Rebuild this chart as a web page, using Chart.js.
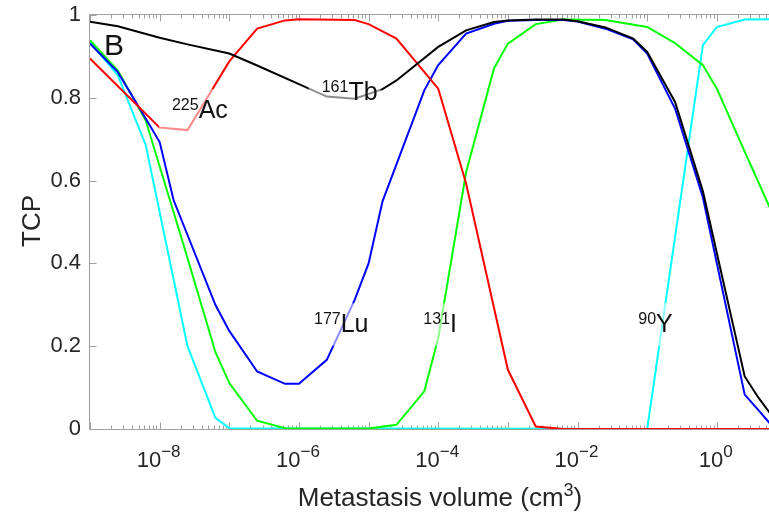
<!DOCTYPE html>
<html>
<head>
<meta charset="utf-8">
<script src="https://cdn.jsdelivr.net/npm/chart.js@4.4.1/dist/chart.umd.min.js"></script>
<style>
  html, body { margin: 0; padding: 0; background: #fff; }
</style>
</head>
<body>
<canvas id="tcpChart" width="769" height="512"></canvas>
<script>
// log10 of metastasis volume (cm^3) and TCP
const tbExp = [-9, -8.6, -8, -7.6, -7, -6.6, -6, -5.6, -5.2, -4.8, -4.6, -4, -3.6, -3.2, -3, -2.6, -2.2, -2, -1.6, -1.2, -1, -0.6, -0.2, 0.4, 0.6, 0.8];
const tbTcp = [0.984, 0.973, 0.945, 0.929, 0.907, 0.878, 0.833, 0.803, 0.798, 0.821, 0.842, 0.923, 0.963, 0.983, 0.987, 0.989, 0.989, 0.985, 0.970, 0.943, 0.911, 0.790, 0.574, 0.127, 0.075, 0.03];

const acExp = [-9, -8, -7.6, -7, -6.6, -6.2, -6, -5.2, -5, -4.6, -4, -3.6, -3, -2.6, -2.2, 0.8];
const acTcp = [0.895, 0.728, 0.722, 0.888, 0.967, 0.987, 0.990, 0.988, 0.978, 0.943, 0.822, 0.593, 0.143, 0.006, 0, 0];

const luExp = [-9, -8.6, -8.2, -8, -7.8, -7.2, -7, -6.6, -6.2, -6, -5.6, -5.2, -5, -4.8, -4.2, -4, -3.6, -3.2, -3, -2.6, -2.2, -2, -1.6, -1.2, -1, -0.6, -0.2, 0.4, 0.6, 0.8];
const luTcp = [0.931, 0.862, 0.75, 0.693, 0.553, 0.300, 0.237, 0.139, 0.109, 0.109, 0.167, 0.312, 0.40, 0.55, 0.818, 0.879, 0.955, 0.979, 0.986, 0.988, 0.988, 0.984, 0.967, 0.941, 0.907, 0.774, 0.559, 0.083, 0.045, 0.006];

const iExp = [-9, -8.6, -8.2, -7.6, -7.2, -7, -6.6, -6.2, -5, -4.6, -4.2, -4, -3.6, -3.2, -3, -2.6, -2.2, -1.6, -1, -0.6, -0.2, 0, 0.4, 0.8];
const iTcp = [0.939, 0.866, 0.745, 0.413, 0.186, 0.111, 0.02, 0.002, 0.001, 0.010, 0.091, 0.22, 0.62, 0.871, 0.931, 0.978, 0.989, 0.988, 0.971, 0.932, 0.879, 0.822, 0.67, 0.52];

const yExp = [-9, -8.6, -8.2, -7.6, -7.2, -7, -1, -0.2, 0, 0.4, 0.8];
const yTcp = [0.935, 0.854, 0.686, 0.200, 0.027, 0.002, 0, 0.927, 0.971, 0.989, 0.990];

const xTickExp = [-8, -6, -4, -2, 0];
const yTicks = [0, 0.2, 0.4, 0.6, 0.8, 1];

// isotope labels: mass number, symbol, anchor (log10 volume, TCP) of text start / baseline
const isoMass = ['225', '161', '177', '131', '90'];
const isoSym = ['Ac', 'Tb', 'Lu', 'I', 'Y'];
const isoAtExp = [-7.823, -5.673, -5.784, -4.215, -1.128];
const isoAtTcp = [0.752, 0.795, 0.235, 0.235, 0.235];

const FONT = '"Liberation Sans", Arial, Helvetica, sans-serif';
const AXIS_GRAY = '#a0a0a0';
const TEXT = '#262626';

const toPoints = (exps, vals) => exps.map((e, i) => ({ x: Math.pow(10, e), y: vals[i] }));

// draw a run of [text, isSup] pieces starting at x, baseline y; returns width
function textRun(ctx, parts, x, y, size, supSize, rise, draw) {
  let w = 0;
  parts.forEach(([t, sup]) => {
    ctx.font = (sup ? supSize : size) + 'px ' + FONT;
    if (draw) ctx.fillText(t, x + w, sup ? y - rise : y);
    w += ctx.measureText(t).width;
  });
  return w;
}

const decorations = {
  id: 'decorations',
  beforeDatasetsDraw(chart) {
    const { ctx, chartArea: a, scales: { x } } = chart;
    const L = a.left - 0.5, T = a.top - 0.5, B = a.bottom + 0.5, R = a.right;
    ctx.save();
    ctx.strokeStyle = AXIS_GRAY;
    ctx.lineWidth = 1;
    ctx.beginPath();
    ctx.moveTo(R, T); ctx.lineTo(L, T); ctx.lineTo(L, B); ctx.lineTo(R, B);
    // y ticks
    yTicks.forEach(v => {
      const py = Math.round(chart.scales.y.getPixelForValue(v)) + 0.5;
      ctx.moveTo(L, py); ctx.lineTo(L + 7, py);
    });
    // x ticks, major at decades and minor at 2..9
    for (let n = -9; n <= 1; n++) {
      for (let m = 1; m <= 9; m++) {
        const v = m * Math.pow(10, n);
        if (v < x.min || v > x.max) continue;
        const px = Math.round(x.getPixelForValue(v)) + 0.5;
        const len = m === 1 ? 7 : 4;
        ctx.moveTo(px, B); ctx.lineTo(px, B - len);
        ctx.moveTo(px, T); ctx.lineTo(px, T + len);
      }
    }
    ctx.stroke();

    // x tick labels 10^n
    ctx.fillStyle = TEXT;
    ctx.textBaseline = 'alphabetic';
    ctx.textAlign = 'left';
    xTickExp.forEach(e => {
      const parts = [['10', false], [String(e).replace('-', '\u2212'), true]];
      const w = textRun(ctx, parts, 0, 0, 22, 17, 10, false);
      const px = x.getPixelForValue(Math.pow(10, e));
      textRun(ctx, parts, px - w / 2 - 1, 467, 22, 17, 10, true);
    });

    // axis titles
    const xt = [['Metastasis volume (cm', false], ['3', true], [')', false]];
    const wt = textRun(ctx, xt, 0, 0, 26, 18, 10, false);
    textRun(ctx, xt, 440 - wt / 2, 506, 26, 18, 10, true);

    ctx.save();
    ctx.translate(40, 221);
    ctx.rotate(-Math.PI / 2);
    ctx.textAlign = 'center';
    ctx.font = '26px ' + FONT;
    ctx.fillText('TCP', 0, 0);
    ctx.restore();
    ctx.restore();
  },
  afterDatasetsDraw(chart) {
    const { ctx, scales: { x, y } } = chart;
    ctx.save();
    ctx.textBaseline = 'alphabetic';
    ctx.textAlign = 'left';
    isoSym.forEach((sym, i) => {
      const px = x.getPixelForValue(Math.pow(10, isoAtExp[i]));
      const py = y.getPixelForValue(isoAtTcp[i]);
      const parts = [[isoMass[i], true], [sym, false]];
      const w = textRun(ctx, parts, 0, 0, 25, 16, 7.5, false);
      ctx.fillStyle = 'rgba(255,255,255,0.55)';
      ctx.fillRect(px - 13, py - 28.5, w + 16, 42.5);
      ctx.fillStyle = '#111';
      textRun(ctx, parts, px, py, 25, 16, 7.5, true);
    });
    // panel letter
    ctx.fillStyle = '#111';
    ctx.font = '30px ' + FONT;
    ctx.fillText('B', x.getPixelForValue(Math.pow(10, -8.8)), y.getPixelForValue(0.903));
    ctx.restore();
  }
};

const lineStyle = color => ({ borderColor: color, backgroundColor: color, borderWidth: 2, pointRadius: 0, tension: 0, fill: false });

new Chart(document.getElementById('tcpChart').getContext('2d'), {
  type: 'line',
  data: {
    datasets: [
      { label: '161Tb', data: toPoints(tbExp, tbTcp), ...lineStyle('#000000') },
      { label: '225Ac', data: toPoints(acExp, acTcp), ...lineStyle('#ff0000') },
      { label: '177Lu', data: toPoints(luExp, luTcp), ...lineStyle('#0000ff') },
      { label: '131I', data: toPoints(iExp, iTcp), ...lineStyle('#00ff00') },
      { label: '90Y', data: toPoints(yExp, yTcp), ...lineStyle('#00ffff') }
    ]
  },
  options: {
    responsive: false,
    animation: false,
    events: [],
    layout: { padding: { top: 15, left: 0, right: 0, bottom: 0 } },
    plugins: { legend: { display: false }, tooltip: { enabled: false } },
    scales: {
      x: {
        type: 'logarithmic',
        min: 1e-9,
        max: Math.pow(10, 0.749),
        ticks: { display: false },
        grid: { display: false, drawTicks: false },
        border: { display: false },
        afterFit: s => { s.height = 83; }
      },
      y: {
        min: 0,
        max: 1,
        afterBuildTicks: s => { s.ticks = yTicks.map(v => ({ value: v })); },
        ticks: { padding: 0, color: TEXT, font: { family: FONT, size: 22 }, callback: v => String(v) },
        grid: { display: false, drawTicks: true, tickLength: 9 },
        border: { display: false },
        afterFit: s => { s.width = 90; }
      }
    }
  },
  plugins: [decorations]
});
</script>
</body>
</html>
